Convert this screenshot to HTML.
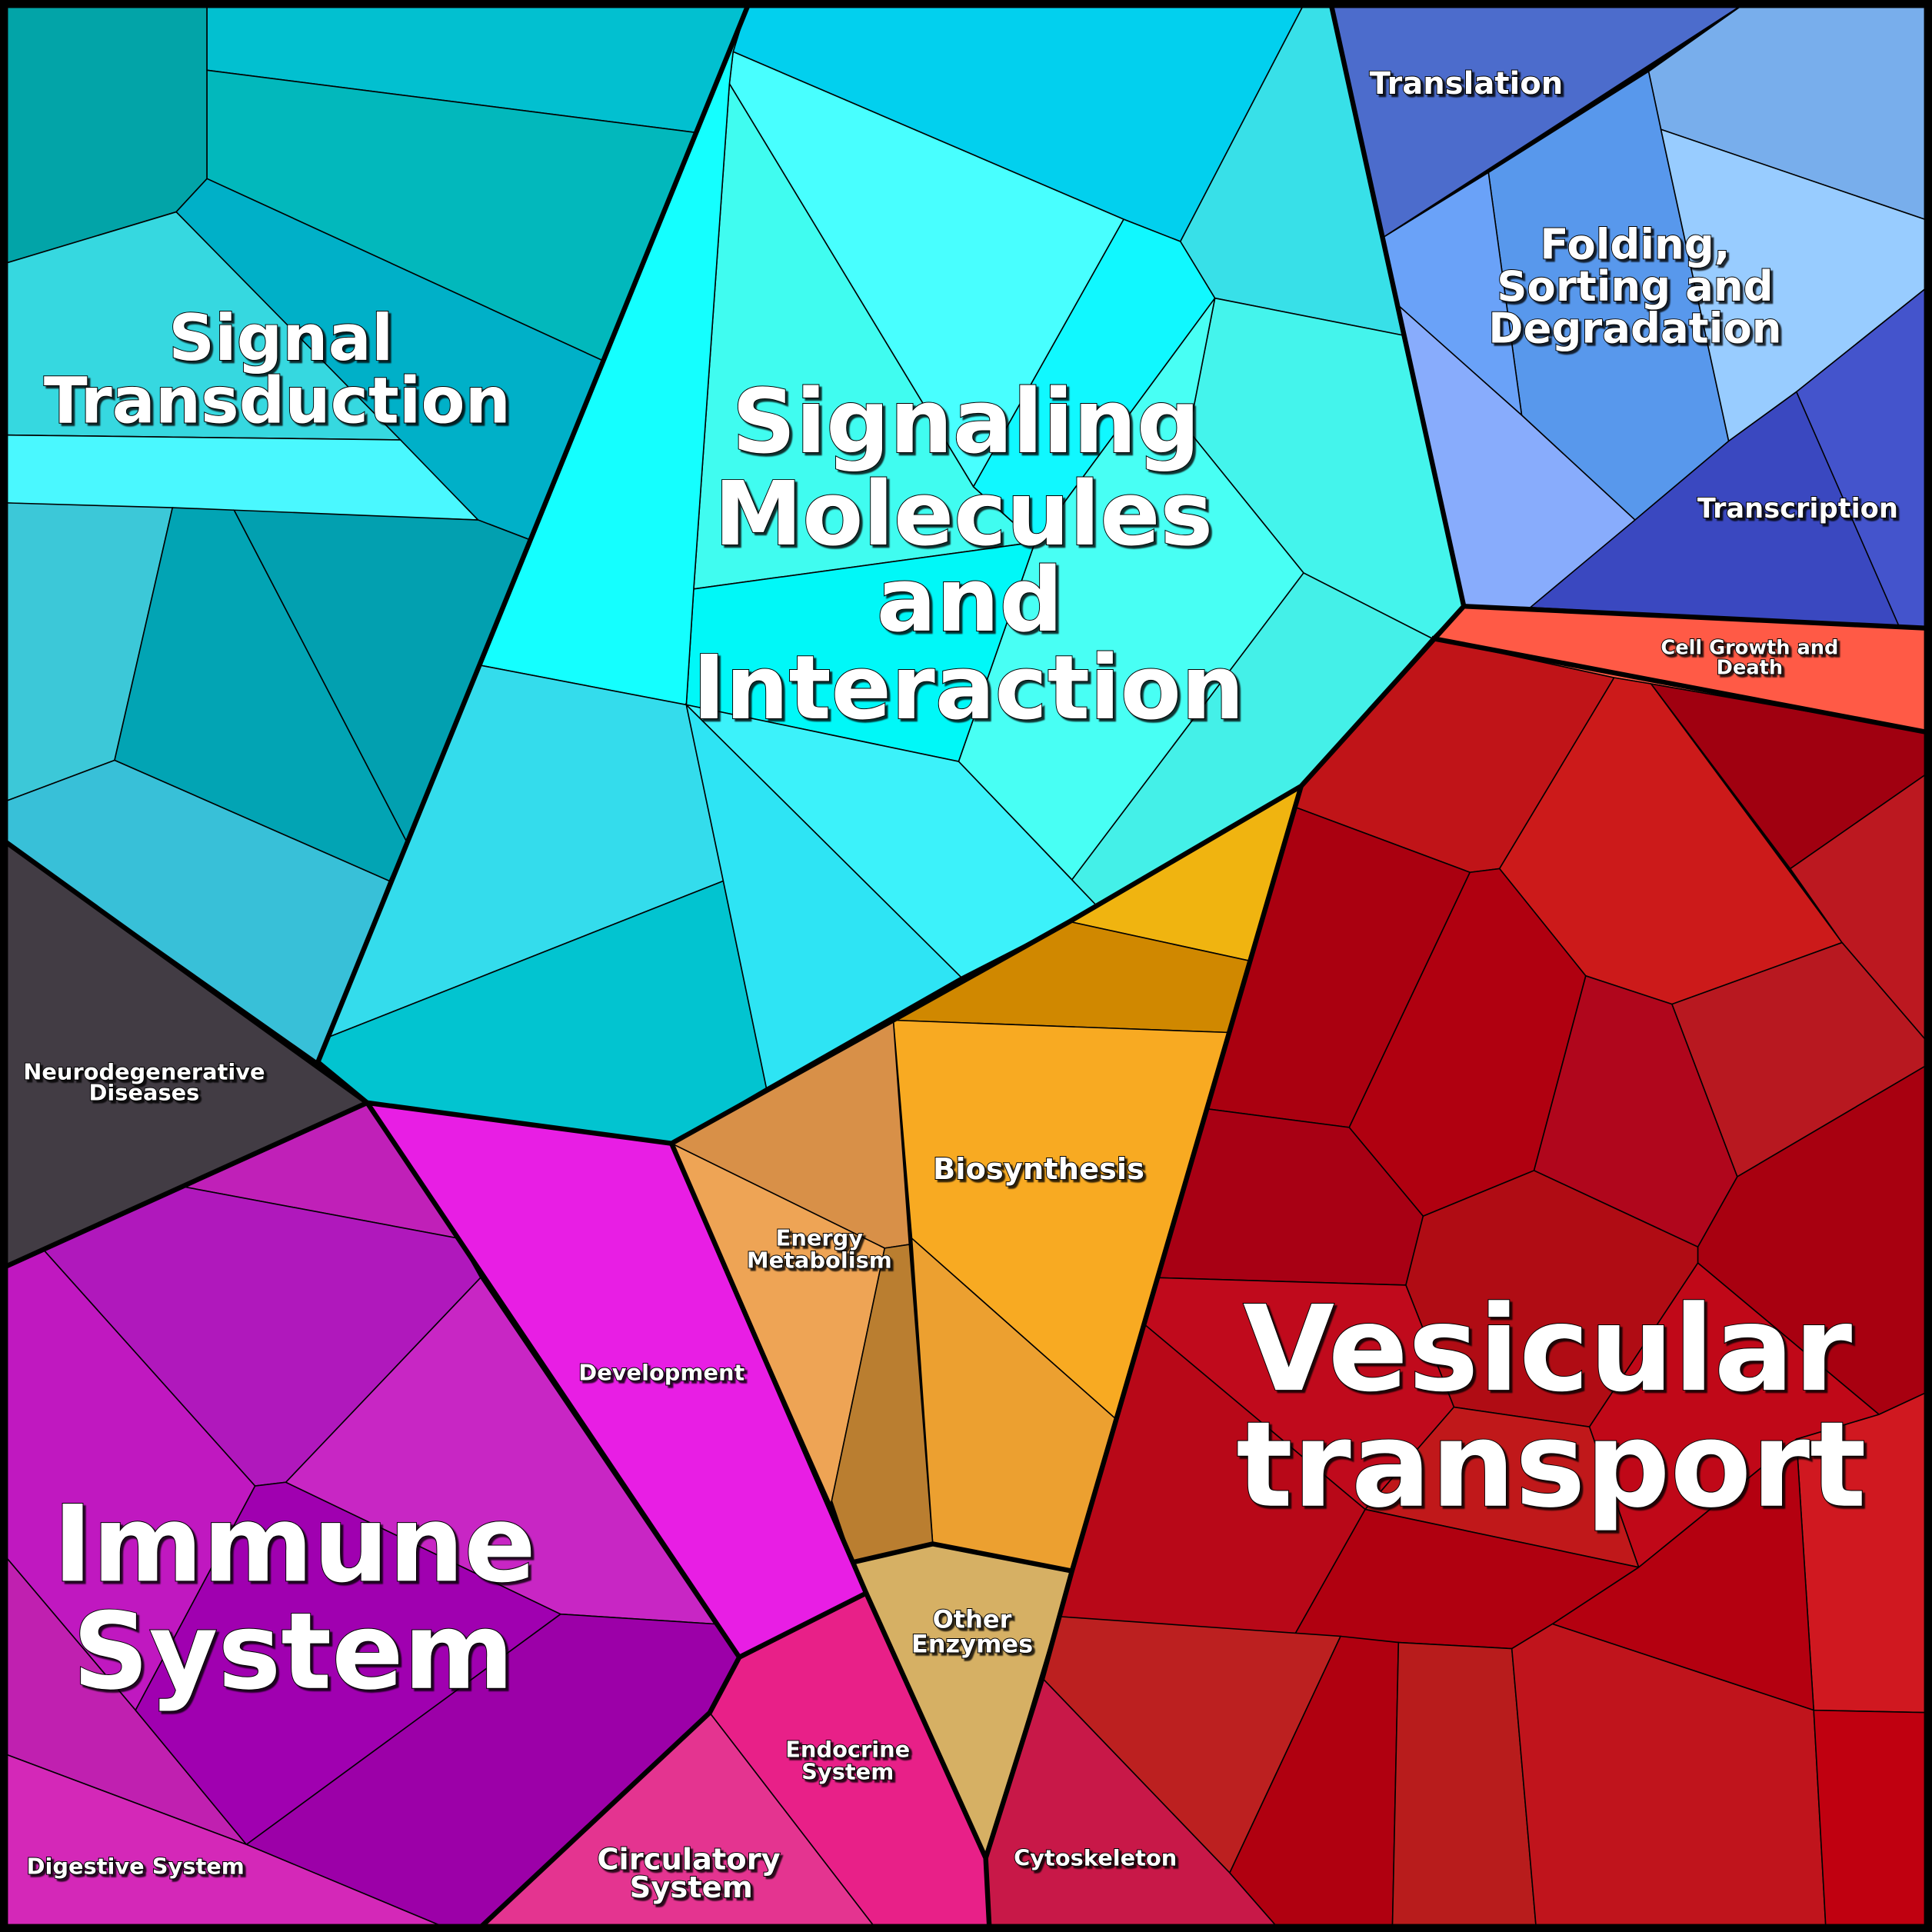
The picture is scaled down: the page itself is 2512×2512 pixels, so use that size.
<!DOCTYPE html>
<html><head><meta charset="utf-8"><style>
html,body{margin:0;padding:0;background:#000}
svg{display:block}
text{font-family:"DejaVu Sans","Liberation Sans",sans-serif;font-weight:bold;fill:#fff;stroke:#000;stroke-width:1.2;paint-order:stroke;text-anchor:middle}
.c polygon{stroke:#000;stroke-width:1}
</style></head><body>
<svg width="2512" height="2512" viewBox="0 0 1568 1568" xmlns="http://www.w3.org/2000/svg">
<defs><filter id="sh"><feDropShadow dx="2" dy="2" stdDeviation="0.5" flood-color="#000" flood-opacity="0.8"/></filter></defs>
<rect width="1568" height="1568" fill="#000"/>
<g class="c">
<polygon fill="#02a4a8" points="0,0 168,0 168,145 143,172 0,215"/>
<polygon fill="#02c0d0" points="168,0 608,0 568,108 168,57"/>
<polygon fill="#02b8bc" points="168,57 568,108 490,293 168,145"/>
<polygon fill="#00b0c8" points="143,172 168,145 490,293 430,438 388,422"/>
<polygon fill="#36d8e0" points="0,215 143,172 325,357 0,353"/>
<polygon fill="#4af8ff" points="0,353 325,357 388,422 0,408"/>
<polygon fill="#3cc8d8" points="0,408 140,412 93,617 0,652"/>
<polygon fill="#02a4b4" points="140,412 190,414 330,683 316,715 93,617"/>
<polygon fill="#02a0b0" points="190,414 388,422 430,438 330,683"/>
<polygon fill="#38c0d8" points="0,652 93,617 316,715 258,862 0,680"/>
<polygon fill="#02d0ee" points="595,42 608,0 1060,0 958,196 912,178"/>
<polygon fill="#38e0e8" points="1060,0 1080,0 1138,272 986,242 958,196"/>
<polygon fill="#48ffff" points="595,42 912,178 790,395 592,68"/>
<polygon fill="#40fcf0" points="592,68 790,395 840,440 563,478"/>
<polygon fill="#10f8ff" points="912,178 958,196 986,242 840,440 790,395"/>
<polygon fill="#44f4ec" points="986,242 1138,272 1188,492 1162,518 1058,465 965,350"/>
<polygon fill="#48fff4" points="986,242 965,350 1058,465 870,714 778,618 840,440"/>
<polygon fill="#00f8f8" points="563,478 840,440 778,618 557,572"/>
<polygon fill="#14ffff" points="608,0 595,42 592,68 563,478 557,572 390,540"/>
<polygon fill="#34dcec" points="390,540 557,572 587,715 266,842"/>
<polygon fill="#02c4d0" points="266,842 587,715 622,883 545,928 298,895 258,862"/>
<polygon fill="#2ee4f4" points="557,572 780,793 622,883 587,715"/>
<polygon fill="#3cf2fa" points="557,572 778,618 890,735 868,748 780,793"/>
<polygon fill="#44f0e8" points="1058,465 1162,518 1188,492 1056,638 890,735 870,714"/>
<polygon fill="#4c6ccc" points="1080,0 1420,0 1122,193"/>
<polygon fill="#78aeec" points="1420,0 1568,0 1568,180 1348,105 1338,58"/>
<polygon fill="#5898ec" points="1338,58 1348,105 1403,358 1327,422 1235,337 1208,140"/>
<polygon fill="#6aa2f8" points="1208,140 1235,337 1135,248 1122,193"/>
<polygon fill="#98ccff" points="1348,105 1568,180 1568,230 1458,318 1403,358"/>
<polygon fill="#88acfc" points="1135,248 1235,337 1327,422 1242,493 1188,492"/>
<polygon fill="#3a48c0" points="1568,230 1568,510 1242,493 1327,422 1403,358 1458,318"/>
<polygon fill="#4454cc" points="1458,318 1568,230 1568,510 1542,510"/>
<polygon fill="#ff5a46" points="1188,492 1568,510 1568,595 1340,555 1310,550 1162,518"/>
<polygon fill="#c01418" points="1162,518 1310,550 1217,705 1193,708 1051,655 1056,638"/>
<polygon fill="#cc1a1a" points="1310,550 1340,555 1495,765 1357,815 1287,792 1217,705"/>
<polygon fill="#a00010" points="1340,555 1568,595 1568,625 1453,705"/>
<polygon fill="#bc1820" points="1453,705 1568,625 1568,850 1495,765"/>
<polygon fill="#aa0010" points="1051,655 1193,708 1095,915 980,900"/>
<polygon fill="#b00010" points="1193,708 1217,705 1287,792 1245,950 1155,987 1095,915"/>
<polygon fill="#b0061c" points="1287,792 1357,815 1410,955 1378,1012 1245,950"/>
<polygon fill="#b81820" points="1357,815 1495,765 1568,850 1568,862 1410,955"/>
<polygon fill="#a80014" points="980,900 1095,915 1155,987 1141,1043 940,1037"/>
<polygon fill="#b00c14" points="1155,987 1245,950 1378,1012 1378,1025 1290,1158 1180,1142 1141,1043"/>
<polygon fill="#a80010" points="1410,955 1568,862 1568,1128 1525,1148 1378,1025 1378,1012"/>
<polygon fill="#c00a1c" points="940,1037 1141,1043 1180,1142 1108,1225 929,1075"/>
<polygon fill="#b80818" points="929,1075 1108,1225 1050,1328 860,1312 906,1152"/>
<polygon fill="#c0181a" points="1180,1142 1290,1158 1330,1272 1108,1225"/>
<polygon fill="#c00818" points="1378,1025 1525,1148 1458,1168 1330,1272 1290,1158"/>
<polygon fill="#d01820" points="1458,1168 1525,1148 1568,1128 1568,1390 1472,1388"/>
<polygon fill="#b00010" points="1108,1225 1330,1272 1260,1318 1227,1338 1135,1333 1050,1328"/>
<polygon fill="#b40010" points="1330,1272 1458,1168 1472,1388 1260,1318"/>
<polygon fill="#bc2020" points="860,1312 1088,1328 998,1520 846,1362"/>
<polygon fill="#b00010" points="1088,1328 1135,1333 1130,1568 1040,1568 998,1520"/>
<polygon fill="#b81c1c" points="1135,1333 1227,1338 1247,1568 1130,1568"/>
<polygon fill="#c0141c" points="1227,1338 1260,1318 1472,1388 1482,1568 1247,1568"/>
<polygon fill="#c00010" points="1472,1388 1568,1390 1568,1568 1482,1568"/>
<polygon fill="#c81848" points="846,1362 998,1520 1040,1568 803,1568 800,1508"/>
<polygon fill="#f0b410" points="868,748 1056,638 1015,780"/>
<polygon fill="#d08800" points="725,828 868,748 1015,780 998,838"/>
<polygon fill="#f8aa22" points="725,828 998,838 906,1152 740,1005"/>
<polygon fill="#eca030" points="740,1005 906,1152 870,1275 757,1253"/>
<polygon fill="#d89048" points="545,928 725,828 738,1010 718,1013"/>
<polygon fill="#eea455" points="545,928 718,1013 675,1218 674,1220"/>
<polygon fill="#ba7e30" points="718,1013 738,1010 757,1253 692,1268 675,1218"/>
<polygon fill="#d6b064" points="692,1268 757,1253 870,1275 800,1508"/>
<polygon fill="#e81ee4" points="298,895 545,928 703,1293 600,1345"/>
<polygon fill="#423c44" points="0,680 298,895 0,1030"/>
<polygon fill="#c020b8" points="148,963 298,895 372,1005"/>
<polygon fill="#b018bc" points="35,1014 148,963 372,1005 390,1037 232,1203 207,1206"/>
<polygon fill="#c018c0" points="0,1030 35,1014 207,1206 110,1388 0,1258"/>
<polygon fill="#c020b0" points="0,1258 110,1388 200,1497 0,1422"/>
<polygon fill="#a000b0" points="207,1206 232,1203 455,1310 200,1497 110,1388"/>
<polygon fill="#c826c4" points="232,1203 390,1037 580,1318 455,1310"/>
<polygon fill="#9c00a8" points="455,1310 580,1318 600,1345 576,1390 388,1568 370,1568 200,1497"/>
<polygon fill="#d428b8" points="0,1422 200,1497 370,1568 0,1568"/>
<polygon fill="#e43490" points="576,1390 713,1568 388,1568"/>
<polygon fill="#e82088" points="600,1345 703,1293 800,1508 803,1568 713,1568 576,1390"/>
</g>
<g fill="none" stroke="#000" stroke-width="4" stroke-linejoin="round">
<polyline points="608,2 258,862 298,895 545,928 725,828 868,748 1056,638 1188,492 1080,2"/>
<polyline points="0,680 298,895 0,1030"/>
<polyline points="298,895 600,1345 703,1293 545,928"/>
<polyline points="600,1345 576,1390 388,1566"/>
<polyline points="703,1293 800,1508 803,1566"/>
<polyline points="1188,492 1568,510"/>
<polyline points="1162,518 1568,595"/>
<polyline points="1056,638 870,1275 846,1362 800,1508"/>
<polyline points="870,1275 757,1253 692,1268"/>
</g>
<rect x="3" y="3" width="1562" height="1562" fill="none" stroke="#000" stroke-width="7"/>
<g filter="url(#sh)">
<text font-size="52" x="228" y="292">Signal</text>
<text font-size="52" x="225" y="343">Transduction</text>
<text font-size="72" x="784" y="367">Signaling</text>
<text font-size="72" x="782" y="442">Molecules</text>
<text font-size="72" x="787" y="512">and</text>
<text font-size="72" x="786" y="583">Interaction</text>
<text font-size="25" x="1190" y="76">Translation</text>
<text font-size="34" x="1327" y="210">Folding,</text>
<text font-size="34" x="1327" y="244">Sorting and</text>
<text font-size="34" x="1327" y="278">Degradation</text>
<text font-size="22" x="1459" y="420">Transcription</text>
<text font-size="16" x="1420" y="531">Cell Growth and</text>
<text font-size="16" x="1420" y="547">Death</text>
<text font-size="96" x="1256" y="1128">Vesicular</text>
<text font-size="96" x="1259" y="1222">transport</text>
<text font-size="18" x="117" y="876">Neurodegenerative</text>
<text font-size="18" x="117" y="893">Diseases</text>
<text font-size="24" x="843" y="957">Biosynthesis</text>
<text font-size="18" x="665" y="1011">Energy</text>
<text font-size="18" x="665" y="1029">Metabolism</text>
<text font-size="18" x="537" y="1120">Development</text>
<text font-size="86" x="239" y="1283">Immune</text>
<text font-size="86" x="238" y="1370">System</text>
<text font-size="20" x="789" y="1321">Other</text>
<text font-size="20" x="789" y="1341">Enzymes</text>
<text font-size="18" x="688" y="1426">Endocrine</text>
<text font-size="18" x="688" y="1444">System</text>
<text font-size="24" x="559" y="1517">Circulatory</text>
<text font-size="24" x="561" y="1540">System</text>
<text font-size="18" x="889" y="1514">Cytoskeleton</text>
<text font-size="18" x="110" y="1521">Digestive System</text>
</g>
</svg>
</body></html>
